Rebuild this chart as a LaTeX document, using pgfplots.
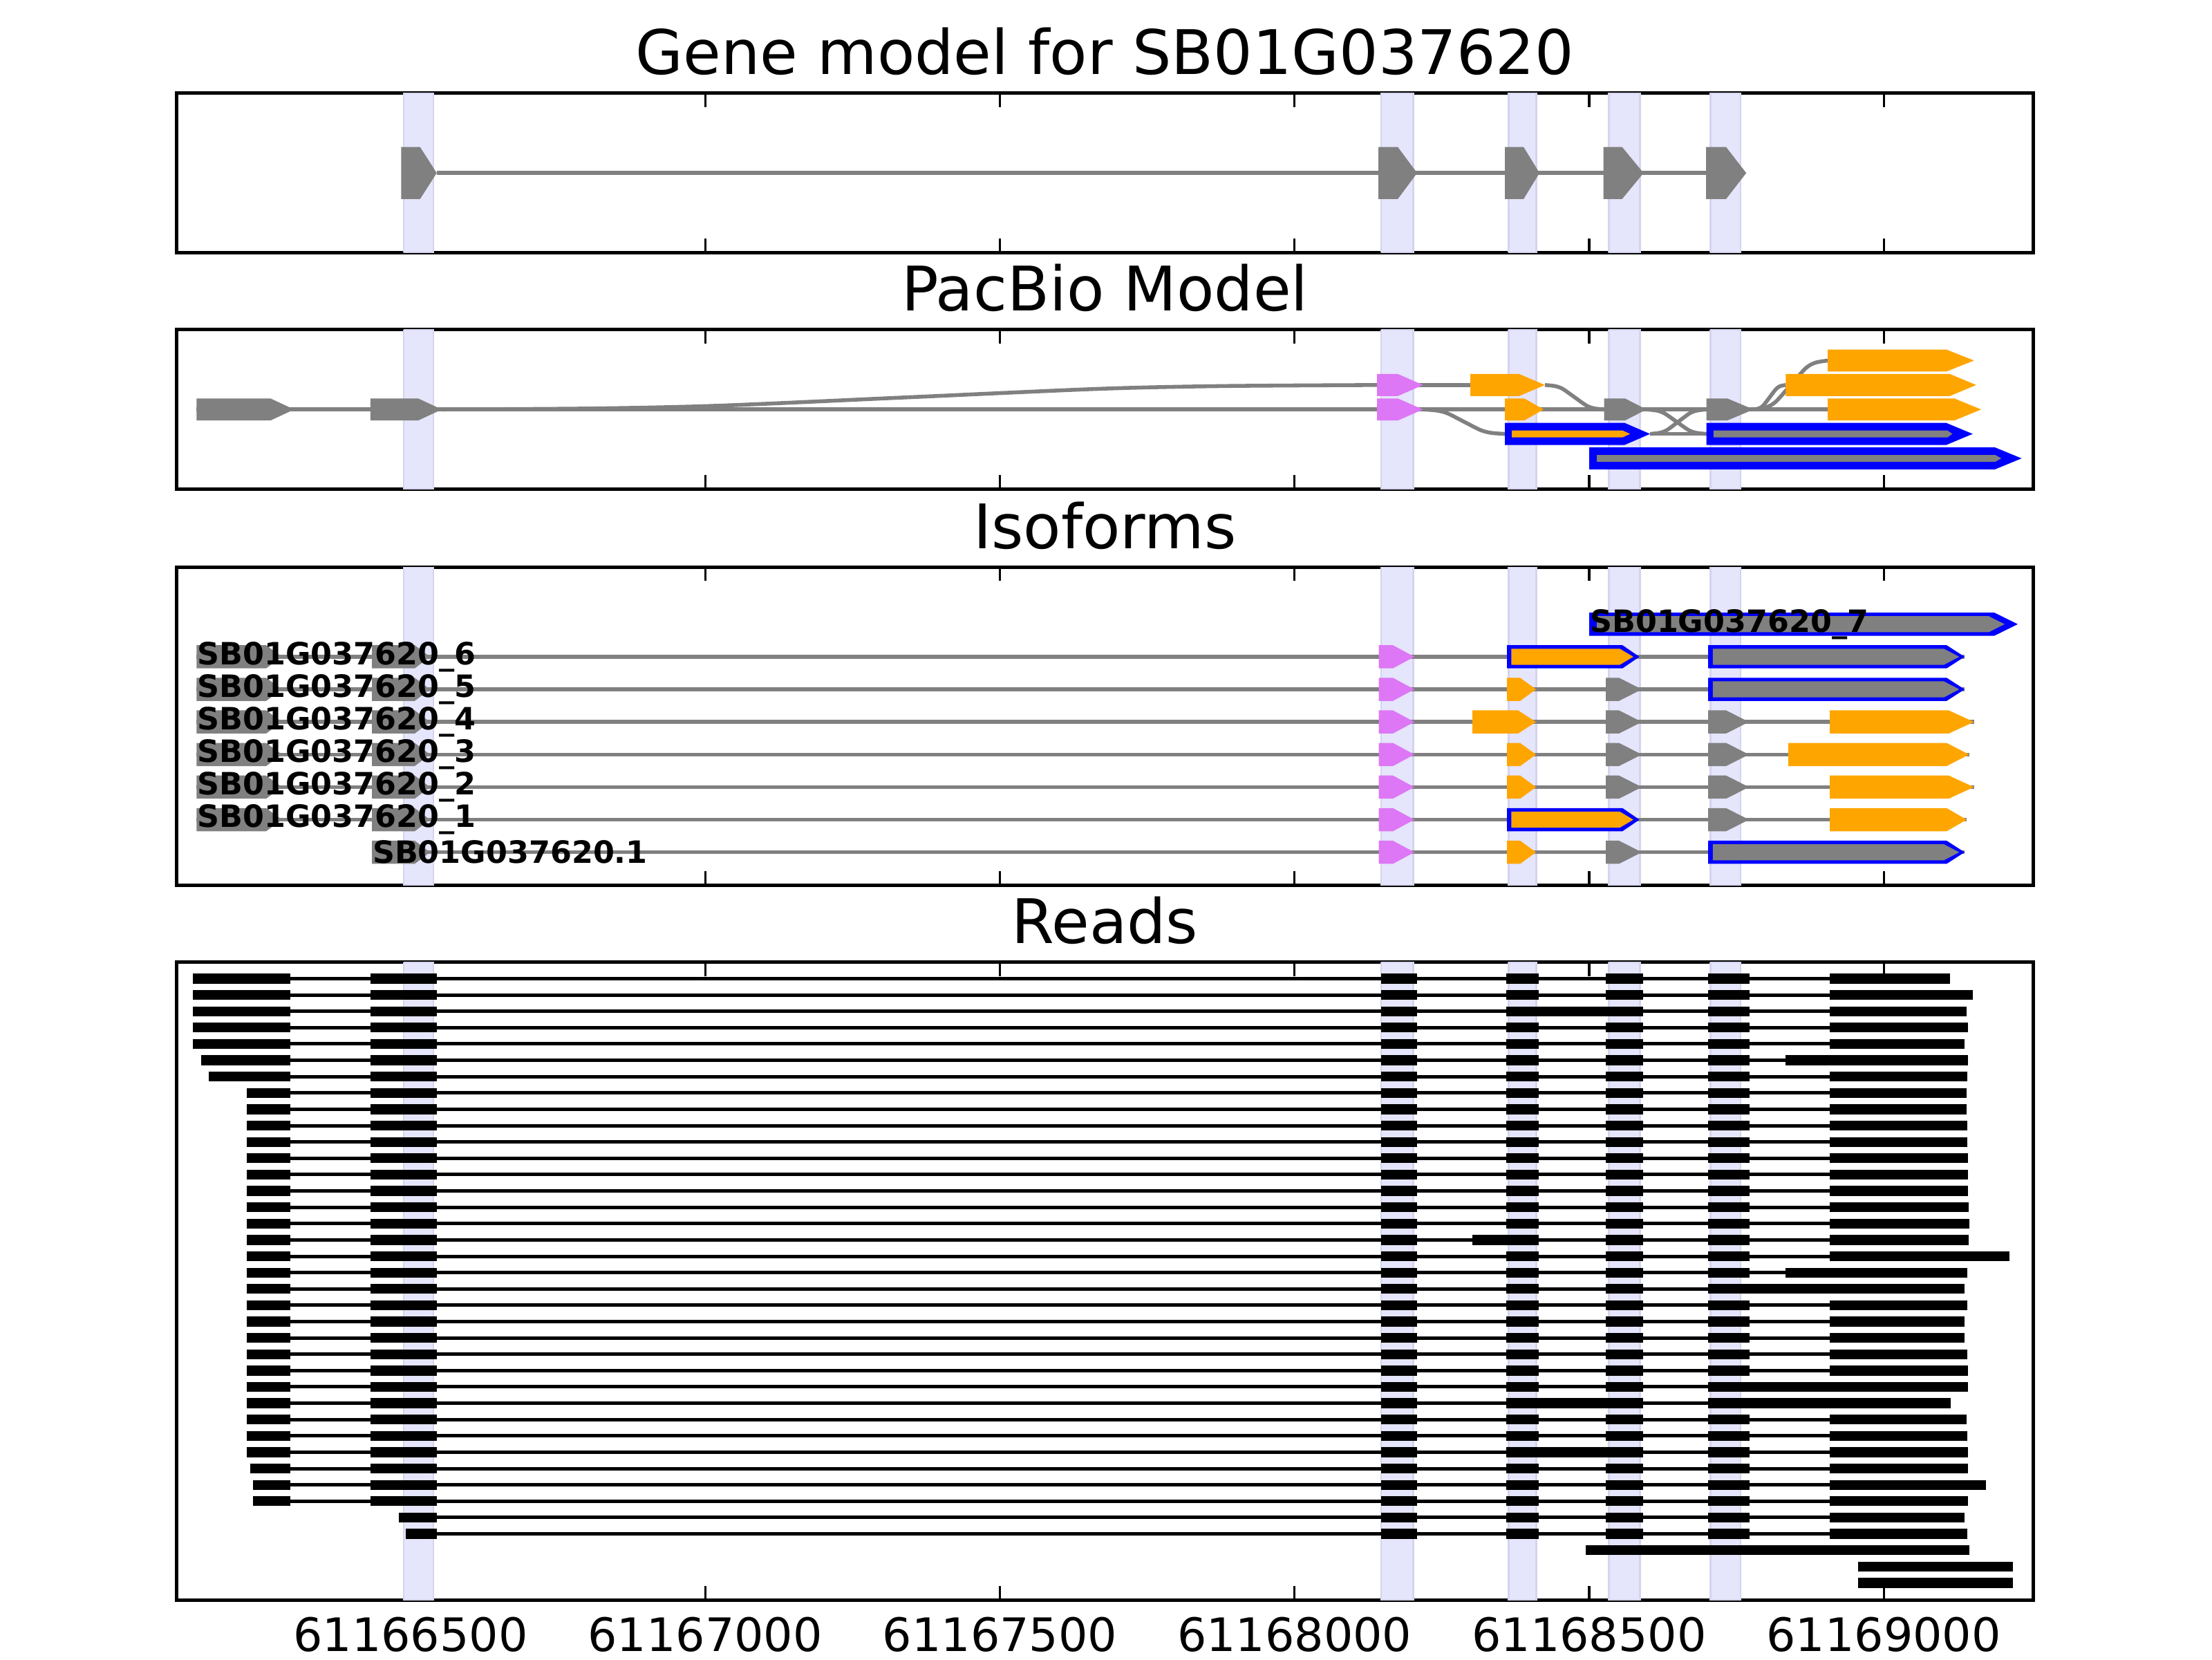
\documentclass[border=0pt]{standalone}
\usepackage{fontspec}
\setmainfont{DejaVu Sans}
\usepackage{pgfplots}
\pgfplotsset{compat=1.18}

\definecolor{exgray}{RGB}{128,128,128}
\definecolor{exorange}{RGB}{255,165,0}
\definecolor{expink}{RGB}{221,119,246}
\definecolor{exblue}{RGB}{0,0,255}
\definecolor{bandfill}{RGB}{229,229,252}
\definecolor{bandedge}{RGB}{212,212,238}

% exon arrow: colour, start, end of flat part, tip, row, half height
\newcommand{\exon}[6]{%
  \pgfmathsetmacro\ylo{#5-#6}\pgfmathsetmacro\yhi{#5+#6}%
  \edef\tmp{\noexpand\addplot[fill=#1,draw=none,mark=none,forget plot]
    coordinates {(#2,\ylo) (#3,\ylo) (#4,#5) (#3,\yhi) (#2,\yhi) (#2,\ylo)};}\tmp}
% straight connector: x0, x1, row, colour
\newcommand{\intron}[4]{%
  \addplot[#4,line width=1pt,mark=none,forget plot] coordinates {(#1,#3) (#2,#3)};}
% s-shaped connector between rows: x0, y0, x1, y1
\newcommand{\sig}[4]{%
  \pgfmathsetmacro\sxa{#1+0.166*(#3-#1)}\pgfmathsetmacro\sya{#2+0.043*(#4-#2)}%
  \pgfmathsetmacro\sxb{#1+0.297*(#3-#1)}\pgfmathsetmacro\syb{#2+0.156*(#4-#2)}%
  \pgfmathsetmacro\sxc{#1+0.5*(#3-#1)}\pgfmathsetmacro\syc{#2+0.5*(#4-#2)}%
  \pgfmathsetmacro\sxd{#1+0.703*(#3-#1)}\pgfmathsetmacro\syd{#2+0.844*(#4-#2)}%
  \pgfmathsetmacro\sxe{#1+0.834*(#3-#1)}\pgfmathsetmacro\sye{#2+0.957*(#4-#2)}%
  \edef\tmp{\noexpand\addplot[exgray,line width=1pt,smooth,mark=none,forget plot]
    coordinates {(#1,#2) (\sxa,\sya) (\sxb,\syb) (\sxc,\syc) (\sxd,\syd) (\sxe,\sye) (#3,#4)};}\tmp}
% highlighted exon columns
\newcommand{\bands}[2]{%
  \foreach \bA/\bB in {488.3/538.7,2147.1/2201.1,2363/2409.9,2533.1/2585.9,2705.5/2757.1}{%
    \edef\tmp{\noexpand\addplot[fill=bandfill,draw=bandedge,line width=0.5pt,mark=none,forget plot]
      coordinates {(\bA,#1) (\bB,#1) (\bB,#2) (\bA,#2) (\bA,#1)};}\tmp}}
% one read: row, line start, line end, blocks
\newcommand{\rd}[4]{%
  \addplot[black,line width=0.9pt,mark=none,forget plot] coordinates {(#2,#1) (#3,#1)};
  \foreach \bA/\bB in {#4}{%
    \edef\tmp{\noexpand\addplot[black,line width=2.57pt,mark=none,forget plot]
      coordinates {(\bA,#1) (\bB,#1)};}\tmp}}

\newcommand{\lbl}{\fontsize{8}{9.6}\selectfont\bfseries}

\pgfplotsset{
  gm/.style={
    scale only axis, width=483.6pt, anchor=south west,
    xmin=102.3, xmax=3254,
    xtick={500,1000,1500,2000,2500,3000}, xticklabels={}, ytick=\empty,
    tick align=inside, major tick length=3.6pt,
    every tick/.style={black,line width=0.6pt},
    axis line style={line width=0.9pt},
    title style={font=\fontsize{16}{19}\selectfont, anchor=base, inner sep=0pt, yshift=-1.14pt},
  }
}

\begin{document}
\begin{tikzpicture}
\path[use as bounding box] (0,0) rectangle (576pt,432pt);

% ---------------- gene model
\begin{axis}[gm, at={(45.9pt,366.21pt)}, height=41.49pt, ymin=0, ymax=1,
  title={Gene model for SB01G037620}]
\bands{0}{1}
\intron{544.3}{2698.5}{0.5}{exgray}
\exon{exgray}{484}{516.1}{544.3}{0.5}{0.163}
\exon{exgray}{2142.4}{2175.3}{2208.1}{0.5}{0.163}
\exon{exgray}{2357.1}{2388.8}{2415.8}{0.5}{0.163}
\exon{exgray}{2524.3}{2556}{2592.3}{0.5}{0.163}
\exon{exgray}{2698.5}{2732.5}{2766.6}{0.5}{0.163}
\end{axis}

% ---------------- PacBio model
\begin{axis}[gm, at={(45.9pt,304.65pt)}, height=41.54pt, y dir=reverse,
  ymin=-0.266, ymax=6.258, title={PacBio Model}]
\bands{-0.266}{6.258}
\intron{136.8}{2905}{3}{exgray}
\intron{2175}{2298.5}{2}{exgray}
\intron{2603.5}{2699.1}{4}{exgray}
\sig{553}{3}{2140.2}{2}
\sig{2425.1}{2}{2525.5}{3}
\sig{2218}{3}{2357.1}{4}
\sig{2597.4}{3}{2699.1}{4}
\sig{2603.5}{4}{2699.1}{3}
\sig{2779.1}{3}{2833.7}{2}
\sig{2779.1}{3}{2905}{1}
\exon{exorange}{2905}{3106}{3153.1}{1}{0.452}
\exon{expink}{2140.2}{2175.3}{2218}{2}{0.452}
\exon{exorange}{2298.5}{2381.1}{2425.1}{2}{0.452}
\exon{exorange}{2833.7}{3112}{3156.9}{2}{0.452}
\exon{exgray}{136.8}{262.1}{302.4}{3}{0.452}
\exon{exgray}{431.9}{512.7}{553}{3}{0.452}
\exon{expink}{2140.2}{2175.3}{2218}{3}{0.452}
\exon{exorange}{2357.1}{2389.9}{2422.8}{3}{0.452}
\exon{exgray}{2525.5}{2560.7}{2597.4}{3}{0.452}
\exon{exgray}{2699.1}{2734.3}{2779.1}{3}{0.452}
\exon{exorange}{2905}{3119.7}{3165.2}{3}{0.452}
\exon{exblue}{2357.1}{2560.1}{2603.5}{4}{0.452}
\exon{exorange}{2368.8}{2556.6}{2569.5}{4}{0.141}
\exon{exblue}{2699.1}{3106}{3150.9}{4}{0.452}
\exon{exgray}{2711}{3108.2}{3116.4}{4}{0.141}
\exon{exblue}{2500.1}{3188.4}{3234}{5}{0.452}
\exon{exgray}{2513}{3189.1}{3199.4}{5}{0.141}
\end{axis}

% ---------------- isoforms
\begin{axis}[gm, at={(45.9pt,201.6pt)}, height=82.8pt, y dir=reverse,
  ymin=-0.757, ymax=9.004, title={Isoforms}]
\bands{-0.757}{9.004}
% _7
\exon{exblue}{2500.2}{3187.6}{3227.5}{1}{0.355}
\exon{exgray}{2513}{3178}{3205}{1}{0.247}
% _6
\intron{136.8}{3137.2}{2}{exgray}
\exon{exgray}{136.8}{254.8}{281.8}{2}{0.355}
\exon{exgray}{434.3}{507}{532.8}{2}{0.355}
\exon{expink}{2142.9}{2167}{2203.4}{2}{0.355}
\exon{exblue}{2360.6}{2556.6}{2585.3}{2}{0.355}
\exon{exorange}{2368}{2552}{2575}{2}{0.247}
\exon{exblue}{2702}{3106.7}{3137.2}{2}{0.355}
\exon{exgray}{2710}{3102}{3128}{2}{0.247}
% _5
\intron{136.8}{3137.2}{3}{exgray}
\exon{exgray}{136.8}{254.8}{281.8}{3}{0.355}
\exon{exgray}{434.3}{507}{532.8}{3}{0.355}
\exon{expink}{2142.9}{2167}{2203.4}{3}{0.355}
\exon{exorange}{2360.6}{2382.9}{2409.9}{3}{0.355}
\exon{exgray}{2528.4}{2550.7}{2589.4}{3}{0.355}
\exon{exblue}{2702}{3106.7}{3137.2}{3}{0.355}
\exon{exgray}{2710}{3102}{3128}{3}{0.247}
% _4
\intron{136.8}{3153}{4}{exgray}
\exon{exgray}{136.8}{254.8}{281.8}{4}{0.355}
\exon{exgray}{434.3}{507}{532.8}{4}{0.355}
\exon{expink}{2142.9}{2167}{2203.4}{4}{0.355}
\exon{exorange}{2302}{2379.4}{2409.9}{4}{0.355}
\exon{exgray}{2528.4}{2550.7}{2589.4}{4}{0.355}
\exon{exgray}{2702}{2732.5}{2771.2}{4}{0.355}
\exon{exorange}{2908.5}{3110.2}{3153}{4}{0.355}
% _3
\intron{136.8}{3144.8}{5}{exgray}
\exon{exgray}{136.8}{254.8}{281.8}{5}{0.355}
\exon{exgray}{434.3}{507}{532.8}{5}{0.355}
\exon{expink}{2142.9}{2167}{2203.4}{5}{0.355}
\exon{exorange}{2360.6}{2382.9}{2409.9}{5}{0.355}
\exon{exgray}{2528.4}{2550.7}{2589.4}{5}{0.355}
\exon{exgray}{2702}{2732.5}{2771.2}{5}{0.355}
\exon{exorange}{2838.1}{3106.7}{3144.8}{5}{0.355}
% _2
\intron{136.8}{3153}{6}{exgray}
\exon{exgray}{136.8}{254.8}{281.8}{6}{0.355}
\exon{exgray}{434.3}{507}{532.8}{6}{0.355}
\exon{expink}{2142.9}{2167}{2203.4}{6}{0.355}
\exon{exorange}{2360.6}{2382.9}{2409.9}{6}{0.355}
\exon{exgray}{2528.4}{2550.7}{2589.4}{6}{0.355}
\exon{exgray}{2702}{2732.5}{2771.2}{6}{0.355}
\exon{exorange}{2908.5}{3110.2}{3153}{6}{0.355}
% _1
\intron{136.8}{3140.7}{7}{exgray}
\exon{exgray}{136.8}{254.8}{281.8}{7}{0.355}
\exon{exgray}{434.3}{507}{532.8}{7}{0.355}
\exon{expink}{2142.9}{2167}{2203.4}{7}{0.355}
\exon{exblue}{2360.6}{2556.6}{2585.3}{7}{0.355}
\exon{exorange}{2368}{2552}{2575}{7}{0.247}
\exon{exgray}{2702}{2732.5}{2771.2}{7}{0.355}
\exon{exorange}{2908.5}{3106.7}{3140.7}{7}{0.355}
% .1
\intron{434.3}{3137.2}{8}{exgray}
\exon{exgray}{434.3}{507}{532.8}{8}{0.355}
\exon{expink}{2142.9}{2167}{2203.4}{8}{0.355}
\exon{exorange}{2360.6}{2382.9}{2409.9}{8}{0.355}
\exon{exgray}{2528.4}{2550.7}{2589.4}{8}{0.355}
\exon{exblue}{2702}{3106.7}{3137.2}{8}{0.355}
\exon{exgray}{2710}{3102}{3128}{8}{0.247}
\node[anchor=west,inner sep=0pt,font=\lbl] at (axis cs:2500.2,1) {SB01G037620\_7};
\node[anchor=west,inner sep=0pt,font=\lbl] at (axis cs:136.8,2) {SB01G037620\_6};
\node[anchor=west,inner sep=0pt,font=\lbl] at (axis cs:136.8,3) {SB01G037620\_5};
\node[anchor=west,inner sep=0pt,font=\lbl] at (axis cs:136.8,4) {SB01G037620\_4};
\node[anchor=west,inner sep=0pt,font=\lbl] at (axis cs:136.8,5) {SB01G037620\_3};
\node[anchor=west,inner sep=0pt,font=\lbl] at (axis cs:136.8,6) {SB01G037620\_2};
\node[anchor=west,inner sep=0pt,font=\lbl] at (axis cs:136.8,7) {SB01G037620\_1};
\node[anchor=west,inner sep=0pt,font=\lbl] at (axis cs:434.3,8) {SB01G037620.1};
\end{axis}

% ---------------- reads
\begin{axis}[gm, at={(45.9pt,15.44pt)}, height=166.03pt, y dir=reverse,
  ymin=0, ymax=39.05, title={Reads},
  xticklabels={61166500,61167000,61167500,61168000,61168500,61169000},
  xticklabel style={font=\fontsize{12}{14}\selectfont, anchor=base, inner sep=0pt, yshift=-13.3pt}]
\bands{0}{39.05}
\rd{1}{130.5}{3112.6}{130.5/295.9,432/544.6,2147.1/2208.1,2359.4/2414.6,2528.4/2591.8,2702/2772.4,2908.5/3112.6}
\rd{2}{130.5}{3151.3}{130.5/295.9,432/544.6,2147.1/2208.1,2359.4/2414.6,2528.4/2591.8,2702/2772.4,2908.5/3151.3}
\rd{3}{130.5}{3140.7}{130.5/295.9,432/544.6,2147.1/2208.1,2359.4/2591.8,2702/2772.4,2908.5/3140.7}
\rd{4}{130.5}{3143}{130.5/295.9,432/544.6,2147.1/2208.1,2359.4/2414.6,2528.4/2591.8,2702/2772.4,2908.5/3143}
\rd{5}{130.5}{3137}{130.5/295.9,432/544.6,2147.1/2208.1,2359.4/2414.6,2528.4/2591.8,2702/2772.4,2908.5/3137}
\rd{6}{144.5}{3143}{144.5/295.9,432/544.6,2147.1/2208.1,2359.4/2414.6,2528.4/2591.8,2702/2772.4,2833.4/3143}
\rd{7}{157.4}{3141.8}{157.4/295.9,432/544.6,2147.1/2208.1,2359.4/2414.6,2528.4/2591.8,2702/2772.4,2908.5/3141.8}
\rd{8}{222}{3140.7}{222/295.9,432/544.6,2147.1/2208.1,2359.4/2414.6,2528.4/2591.8,2702/2772.4,2908.5/3140.7}
\rd{9}{222}{3140.7}{222/295.9,432/544.6,2147.1/2208.1,2359.4/2414.6,2528.4/2591.8,2702/2772.4,2908.5/3140.7}
\rd{10}{222}{3141.8}{222/295.9,432/544.6,2147.1/2208.1,2359.4/2414.6,2528.4/2591.8,2702/2772.4,2908.5/3141.8}
\rd{11}{222}{3141.8}{222/295.9,432/544.6,2147.1/2208.1,2359.4/2414.6,2528.4/2591.8,2702/2772.4,2908.5/3141.8}
\rd{12}{222}{3143}{222/295.9,432/544.6,2147.1/2208.1,2359.4/2414.6,2528.4/2591.8,2702/2772.4,2908.5/3143}
\rd{13}{222}{3143}{222/295.9,432/544.6,2147.1/2208.1,2359.4/2414.6,2528.4/2591.8,2702/2772.4,2908.5/3143}
\rd{14}{222}{3143}{222/295.9,432/544.6,2147.1/2208.1,2359.4/2414.6,2528.4/2591.8,2702/2772.4,2908.5/3143}
\rd{15}{222}{3144.2}{222/295.9,432/544.6,2147.1/2208.1,2359.4/2414.6,2528.4/2591.8,2702/2772.4,2908.5/3144.2}
\rd{16}{222}{3145.4}{222/295.9,432/544.6,2147.1/2208.1,2359.4/2414.6,2528.4/2591.8,2702/2772.4,2908.5/3145.4}
\rd{17}{222}{3144.2}{222/295.9,432/544.6,2147.1/2208.1,2302/2414.6,2528.4/2591.8,2702/2772.4,2908.5/3144.2}
\rd{18}{222}{3213.5}{222/295.9,432/544.6,2147.1/2208.1,2359.4/2414.6,2528.4/2591.8,2702/2772.4,2908.5/3213.5}
\rd{19}{222}{3141.8}{222/295.9,432/544.6,2147.1/2208.1,2359.4/2414.6,2528.4/2591.8,2702/2772.4,2833.4/3141.8}
\rd{20}{222}{3137}{222/295.9,432/544.6,2147.1/2208.1,2359.4/2414.6,2528.4/2591.8,2702/3137}
\rd{21}{222}{3141.8}{222/295.9,432/544.6,2147.1/2208.1,2359.4/2414.6,2528.4/2591.8,2702/2772.4,2908.5/3141.8}
\rd{22}{222}{3137}{222/295.9,432/544.6,2147.1/2208.1,2359.4/2414.6,2528.4/2591.8,2702/2772.4,2908.5/3137}
\rd{23}{222}{3137}{222/295.9,432/544.6,2147.1/2208.1,2359.4/2414.6,2528.4/2591.8,2702/2772.4,2908.5/3137}
\rd{24}{222}{3141.8}{222/295.9,432/544.6,2147.1/2208.1,2359.4/2414.6,2528.4/2591.8,2702/2772.4,2908.5/3141.8}
\rd{25}{222}{3143}{222/295.9,432/544.6,2147.1/2208.1,2359.4/2414.6,2528.4/2591.8,2702/2772.4,2908.5/3143}
\rd{26}{222}{3143}{222/295.9,432/544.6,2147.1/2208.1,2359.4/2414.6,2528.4/2591.8,2702/3143}
\rd{27}{222}{3114}{222/295.9,432/544.6,2147.1/2208.1,2359.4/2591.8,2702/3114}
\rd{28}{222}{3140.7}{222/295.9,432/544.6,2147.1/2208.1,2359.4/2414.6,2528.4/2591.8,2702/2772.4,2908.5/3140.7}
\rd{29}{222}{3141.8}{222/295.9,432/544.6,2147.1/2208.1,2359.4/2414.6,2528.4/2591.8,2702/2772.4,2908.5/3141.8}
\rd{30}{222}{3143}{222/295.9,432/544.6,2147.1/2208.1,2359.4/2591.8,2702/2772.4,2908.5/3143}
\rd{31}{228}{3143}{228/295.9,432/544.6,2147.1/2208.1,2359.4/2414.6,2528.4/2591.8,2702/2772.4,2908.5/3143}
\rd{32}{233}{3173}{233/295.9,432/544.6,2147.1/2208.1,2359.4/2414.6,2528.4/2591.8,2702/2772.4,2908.5/3173}
\rd{33}{233}{3143}{233/295.9,432/544.6,2147.1/2208.1,2359.4/2414.6,2528.4/2591.8,2702/2772.4,2908.5/3143}
\rd{34}{480}{3137}{480/544.6,2147.1/2208.1,2359.4/2414.6,2528.4/2591.8,2702/2772.4,2908.5/3137}
\rd{35}{492}{3141.8}{492/544.6,2147.1/2208.1,2359.4/2414.6,2528.4/2591.8,2702/2772.4,2908.5/3141.8}
\rd{36}{2494.4}{3144.8}{2494.4/3144.8}
\rd{37}{2956.6}{3219.4}{2956.6/3219.4}
\rd{38}{2956.6}{3219.4}{2956.6/3219.4}
\end{axis}
\end{tikzpicture}
\end{document}
